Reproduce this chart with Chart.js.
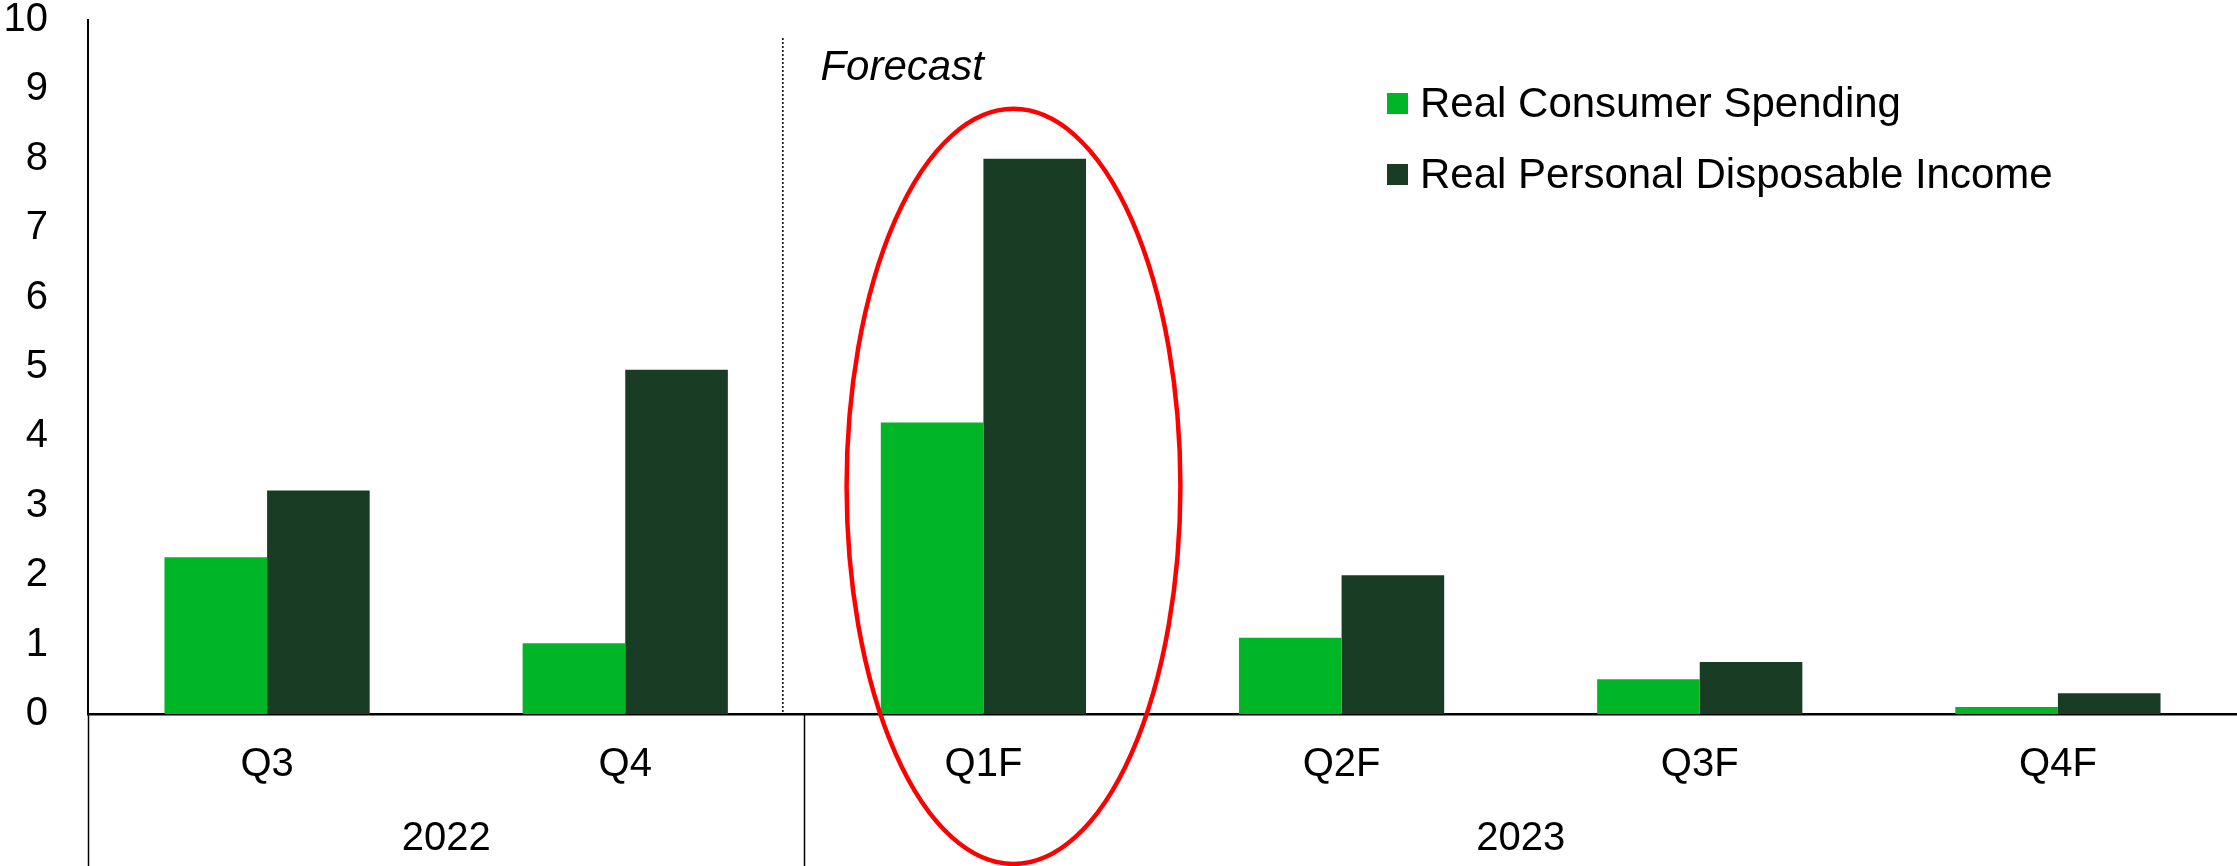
<!DOCTYPE html>
<html>
<head>
<meta charset="utf-8">
<script src="https://cdn.jsdelivr.net/npm/chart.js@4.4.1/dist/chart.umd.min.js"></script>
<style>
  body { margin: 0; background: #fff; }
  #wrap { position: relative; width: 2237px; height: 866px; }
  .legend-item { position: absolute; left: 1387px; height: 42px; display: flex; align-items: center;
    font-family: "Liberation Sans", Arial, sans-serif; font-size: 42px; color: #000; white-space: nowrap; }
  .legend-box { width: 21px; height: 21px; margin-right: 12px; }
</style>
</head>
<body>
<div id="wrap">
  <canvas id="chart"></canvas>
  <div id="legend"></div>
</div>
<script>
// data
const categories = ['Q3', 'Q4', 'Q1F', 'Q2F', 'Q3F', 'Q4F'];
const years = ['2022', '2023'];
const yearPositions = [0.5, 3.5];   // middle of each year group (category index)
const spending = [2.26, 1.02, 4.2, 1.1, 0.5, 0.1];
const income = [3.22, 4.96, 8.0, 2.0, 0.75, 0.3];
const seriesNames = ['Real Consumer Spending', 'Real Personal Disposable Income'];
const seriesColors = ['#00B626', '#193D24'];

const FONT = '"Liberation Sans", Arial, sans-serif';

/* legend drawn as html, top right */
const legend = document.getElementById('legend');
seriesNames.forEach((name, i) => {
  const item = document.createElement('div');
  item.className = 'legend-item';
  item.style.top = (82 + i * 71) + 'px';
  item.innerHTML = `<span class="legend-box" style="background:${seriesColors[i]}"></span>${name}`;
  legend.appendChild(item);
});

/* forecast marker, group separator and the red ellipse */
const extras = {
  id: 'extras',
  afterDraw(chart) {
    const ctx = chart.ctx;
    const xs = chart.scales.x2;
    const ys = chart.scales.y;
    const area = chart.chartArea;
    ctx.save();

    // dotted forecast line
    ctx.strokeStyle = '#000';
    ctx.lineWidth = 1.5;
    ctx.setLineDash([2, 2]);
    const dx = xs.getPixelForValue(1.44);
    ctx.beginPath();
    ctx.moveTo(dx, ys.getPixelForValue(9.74));
    ctx.lineTo(dx, ys.getPixelForValue(0));
    ctx.stroke();
    ctx.setLineDash([]);

    // lines under the axis: left border and year separator
    ctx.lineWidth = 1.5;
    [-0.5, 1.5].forEach(v => {
      const px = Math.round(xs.getPixelForValue(v)) + 0.5;
      ctx.beginPath();
      ctx.moveTo(px, area.bottom);
      ctx.lineTo(px, chart.height);
      ctx.stroke();
    });

    // Forecast text
    ctx.fillStyle = '#000';
    ctx.font = 'italic 42px ' + FONT;
    ctx.textBaseline = 'alphabetic';
    ctx.textAlign = 'left';
    ctx.fillText('Forecast', xs.getPixelForValue(1.545), ys.getPixelForValue(9.14));

    // red ellipse round Q1F
    const cx = xs.getPixelForValue(2.084);
    const cy = ys.getPixelForValue(3.28);
    const rx = xs.getPixelForValue(2.55) - cx;
    const ry = ys.getPixelForValue(0) - ys.getPixelForValue(5.44);
    ctx.strokeStyle = '#FF0000';
    ctx.lineWidth = 4.5;
    ctx.beginPath();
    ctx.ellipse(cx, cy, rx, ry, 0, 0, Math.PI * 2);
    ctx.stroke();

    ctx.restore();
  }
};

const myChart = new Chart(document.getElementById('chart'), {
  type: 'bar',
  data: {
    labels: categories,
    datasets: [
      { label: seriesNames[0], data: spending, backgroundColor: seriesColors[0] },
      { label: seriesNames[1], data: income, backgroundColor: seriesColors[1] }
    ]
  },
  options: {
    responsive: true,
    maintainAspectRatio: false,
    animation: false,
    datasets: { bar: { categoryPercentage: 0.573, barPercentage: 1, borderWidth: 0 } },
    layout: { padding: 0 },
    plugins: { legend: { display: false }, tooltip: { enabled: false } },
    scales: {
      y: {
        min: 0,
        max: 10,
        // gap between labels and axis comes from tickLength, so no extra top padding
        ticks: { stepSize: 1, color: '#000', padding: 0, font: { family: FONT, size: 40, lineHeight: 1 } },
        grid: { display: false, drawTicks: true, tickLength: 40 },
        border: { display: true, color: '#000', width: 2 },
        afterFit(scale) { scale.width = 88; }
      },
      x: {
        weight: 0,
        ticks: { color: '#000', padding: 0, maxRotation: 0, autoSkip: false, font: { family: FONT, size: 40 } },
        grid: { display: false, drawTicks: true, tickLength: 27 },
        border: { display: true, color: '#000', width: 2.5 },
        afterFit(scale) { scale.height = 100; }
      },
      x2: {
        type: 'linear',
        position: 'bottom',
        weight: 1,
        offset: false,
        bounds: 'data',
        min: -0.5,
        max: 5.5,
        afterBuildTicks(scale) { scale.ticks = yearPositions.map(v => ({ value: v })); },
        ticks: {
          color: '#000', padding: 1, maxRotation: 0, autoSkip: false,
          font: { family: FONT, size: 40 },
          callback: (value, index) => years[index]
        },
        grid: { display: false, drawTicks: false, offset: false },
        border: { display: false },
        afterFit(scale) { scale.height = 52; }
      }
    }
  },
  plugins: [extras]
});
</script>
</body>
</html>
